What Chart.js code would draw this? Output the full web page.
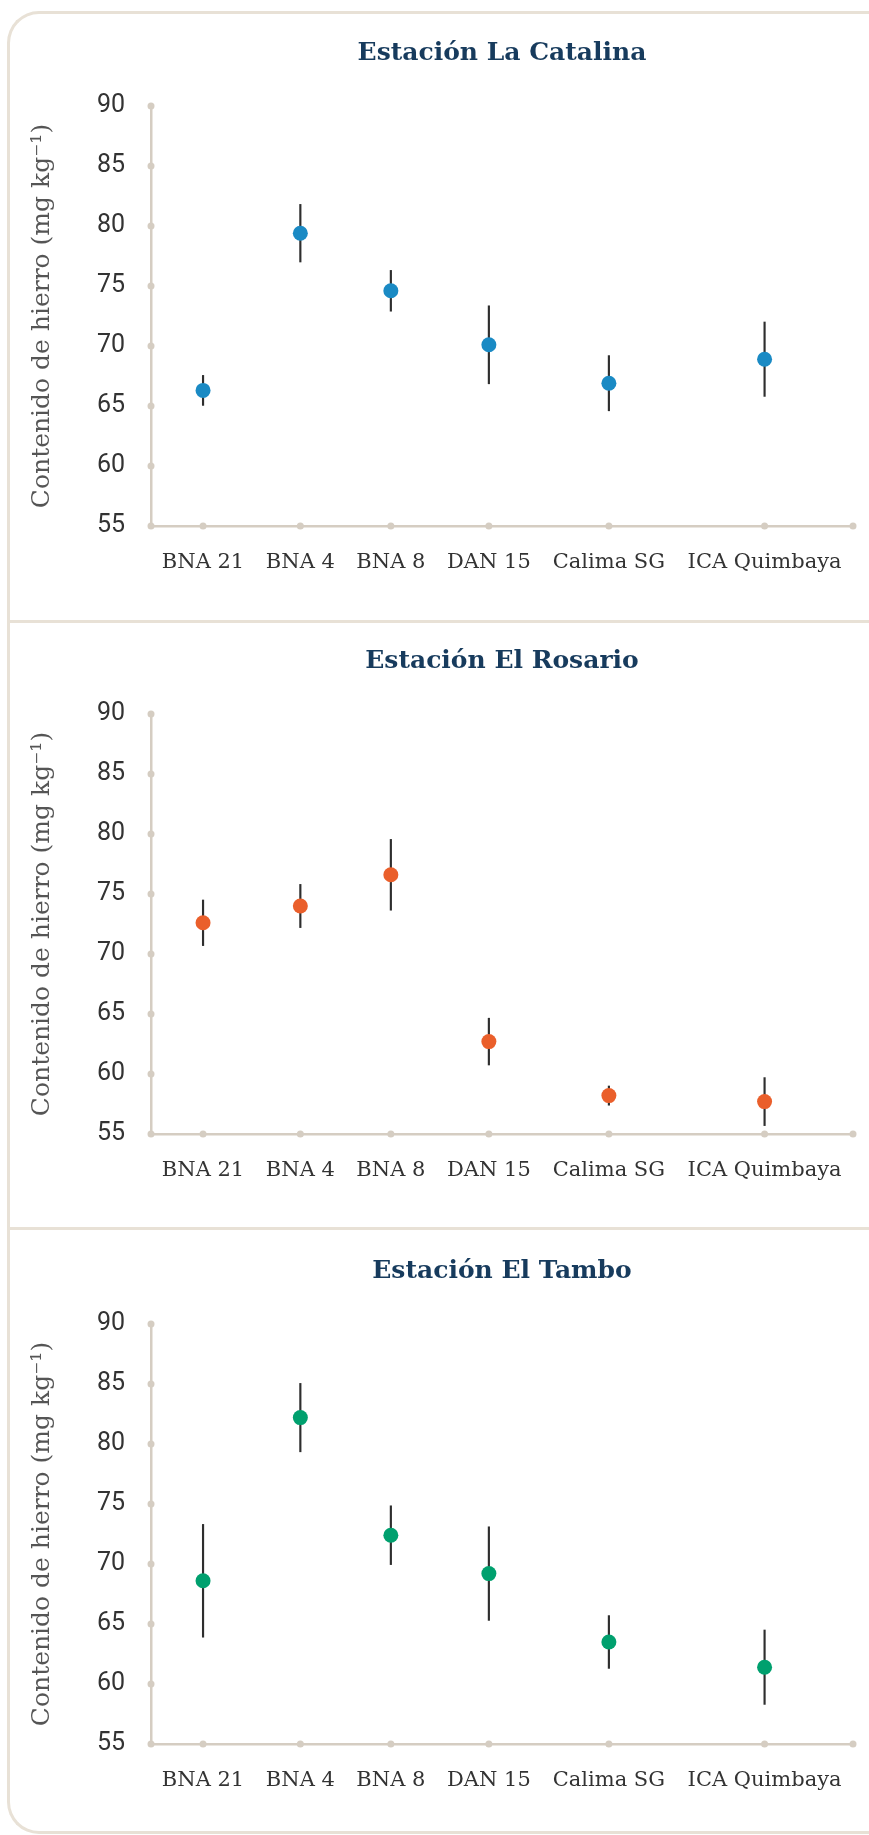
<!DOCTYPE html>
<html>
<head>
<meta charset="utf-8">
<script src="https://cdn.jsdelivr.net/npm/chart.js@4.4.0/dist/chart.umd.min.js"></script>
<style>
  body { margin: 0; background: #fff; }
  .frame { position: relative; width: 869px; height: 1835px; overflow: hidden; }
  .line { position: absolute; background: #e8e1d6; }
  .corner { position: absolute; left: 7px; width: 40px; height: 40px; box-sizing: border-box; border: 0 solid #e8e1d6; }
  canvas { position: absolute; left: 0; }
</style>
</head>
<body>
<div class="frame">
<div class="corner" style="top: 11px; border-left-width: 3px; border-top-width: 3px; border-top-left-radius: 32px"></div>
<div class="corner" style="top: 1794px; border-left-width: 3px; border-bottom-width: 3px; border-bottom-left-radius: 32px"></div>
<div class="line" style="left: 47px; top: 11px; width: 822px; height: 3px"></div>
<div class="line" style="left: 47px; top: 1831px; width: 822px; height: 3px"></div>
<div class="line" style="left: 7px; top: 51px; width: 3px; height: 1743px"></div>
<div class="line" style="left: 7px; top: 620px; width: 862px; height: 3px"></div>
<div class="line" style="left: 7px; top: 1227px; width: 862px; height: 3px"></div>
<canvas id="catalina" width="869" height="600" style="top: 0px"></canvas>
<canvas id="rosario" width="869" height="600" style="top: 608px"></canvas>
<canvas id="tambo" width="869" height="600" style="top: 1218px"></canvas>
</div>
<script>
// genotipos y escala
const genotypes = ["BNA 21", "BNA 4", "BNA 8", "DAN 15", "Calima SG", "ICA Quimbaya"];
const yTicks = [55, 60, 65, 70, 75, 80, 85, 90];

// contenido de hierro (mg/kg), media y error por estacion
const catalinaMean = [66.3, 79.4, 74.6, 70.1, 66.9, 68.9];
const catalinaErr = [1.25, 2.4, 1.7, 3.25, 2.3, 3.1];
const rosarioMean = [72.6, 74.0, 76.6, 62.7, 58.2, 57.7];
const rosarioErr = [1.9, 1.8, 2.95, 1.95, 0.8, 2.0];
const tamboMean = [68.6, 82.2, 72.4, 69.2, 63.5, 61.4];
const tamboErr = [4.7, 2.85, 2.45, 3.9, 2.2, 3.1];

const AXIS = "#d5cdc2";
const LABEL_FONT = { family: "DejaVu Serif", size: 21 };
const LABEL_GAP = 20;

// each genotype gets a slot as wide as its label plus a fixed gap
const measure = document.createElement("canvas").getContext("2d");
measure.font = LABEL_FONT.size + 'px "' + LABEL_FONT.family + '"';
const centers = [];
let xEnd = 0;
genotypes.forEach(g => {
    const w = measure.measureText(g).width + LABEL_GAP;
    centers.push(xEnd + w / 2);
    xEnd += w;
});

const axisDots = {
    id: "axisDots",
    beforeDatasetsDraw(chart) {
        const { ctx, chartArea, scales: { x, y } } = chart;
        ctx.save();
        ctx.fillStyle = AXIS;
        const dot = (px, py) => {
            ctx.beginPath();
            ctx.arc(px, py, 3.5, 0, Math.PI * 2);
            ctx.fill();
        };
        y.ticks.forEach(t => dot(chartArea.left, y.getPixelForValue(t.value)));
        x.ticks.forEach(t => dot(x.getPixelForValue(t.value), chartArea.bottom));
        dot(chartArea.right, chartArea.bottom);
        ctx.restore();
    }
};

function makeChart(id, title, means, errs, color) {
    const points = means.map((m, i) => ({ x: centers[i], y: m }));
    const bars = means.map((m, i) => ({ x: centers[i], y: [m - errs[i], m + errs[i]] }));

    new Chart(document.getElementById(id), {
        type: "bar",
        data: {
            datasets: [
                {
                    type: "line",
                    data: points,
                    showLine: false,
                    pointRadius: 7.5,
                    pointBackgroundColor: color,
                    pointBorderWidth: 0,
                    order: 0
                },
                {
                    type: "bar",
                    data: bars,
                    backgroundColor: "#2e2e2e",
                    barThickness: 1.5,
                    order: 1
                }
            ]
        },
        options: {
            responsive: false,
            animation: false,
            events: [],
            layout: { padding: { right: 16 } },
            plugins: {
                legend: { display: false },
                tooltip: { enabled: false },
                title: {
                    display: true,
                    text: title,
                    fullSize: false,
                    color: "#173b5d",
                    font: { family: "DejaVu Serif", size: 25, weight: "bold" },
                    padding: { top: 38, bottom: 38 }
                }
            },
            scales: {
                x: {
                    type: "linear",
                    min: 0,
                    max: xEnd,
                    offset: false,
                    grid: { display: false, drawTicks: false },
                    border: { color: AXIS, width: 2.5 },
                    afterBuildTicks: s => { s.ticks = centers.map(v => ({ value: v })); },
                    afterFit: s => { s.height = 74; },
                    ticks: {
                        autoSkip: false,
                        maxRotation: 0,
                        padding: 24,
                        color: "#333",
                        font: LABEL_FONT,
                        callback: (v, i) => genotypes[i]
                    }
                },
                y: {
                    min: 55,
                    max: 90,
                    grid: { display: false, drawTicks: false },
                    border: { color: AXIS, width: 2.5 },
                    afterBuildTicks: s => { s.ticks = yTicks.map(v => ({ value: v })); },
                    afterFit: s => { s.width = 151; },
                    ticks: {
                        padding: 26,
                        color: "#333",
                        font: { family: "Roboto", size: 25 }
                    },
                    title: {
                        display: true,
                        text: "Contenido de hierro (mg kg⁻¹)",
                        color: "#555",
                        font: { family: "DejaVu Serif", size: 25 },
                        padding: { top: 27, bottom: 0 }
                    }
                }
            }
        },
        plugins: [axisDots]
    });
}

makeChart("catalina", "Estación La Catalina", catalinaMean, catalinaErr, "#1a8ac4");
makeChart("rosario", "Estación El Rosario", rosarioMean, rosarioErr, "#ea5f2b");
makeChart("tambo", "Estación El Tambo", tamboMean, tamboErr, "#00a06e");
</script>
</body>
</html>
